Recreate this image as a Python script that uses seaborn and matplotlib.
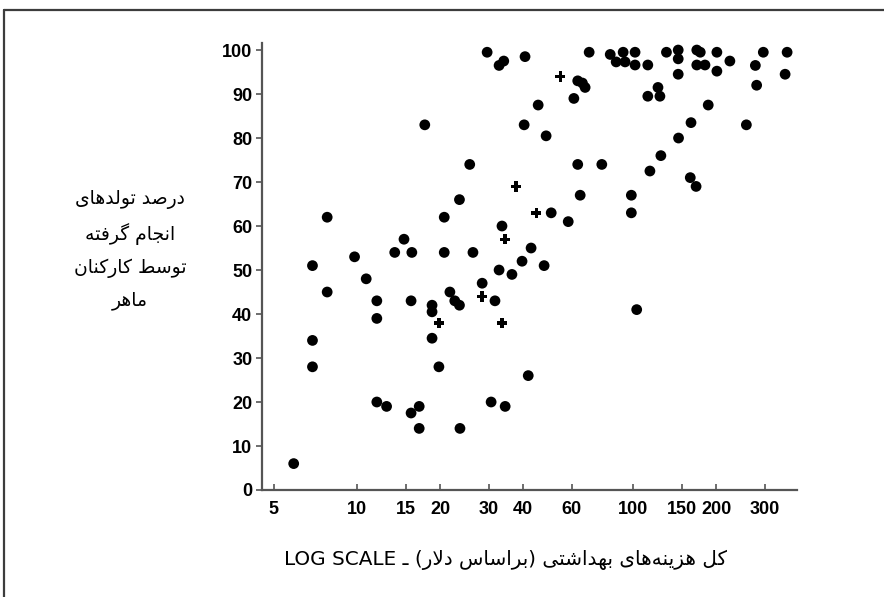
import matplotlib
matplotlib.use("Agg")
import matplotlib.pyplot as plt
import seaborn as sns
import pandas as pd
from matplotlib.lines import Line2D
from matplotlib.ticker import FixedLocator, FixedFormatter, NullLocator

# ---------------- data ----------------
health_spending = [5.9, 6.9, 6.9, 6.9, 7.8, 7.8, 9.8, 10.8, 11.8, 11.8, 11.8, 12.8, 13.7, 14.8,
                   15.8, 15.7, 15.7, 16.8, 16.8, 17.6, 18.7, 18.7, 18.7, 19.8, 20.7, 20.7, 21.7,
                   22.6, 23.5, 23.5, 23.6, 25.6, 26.3, 28.4, 29.6, 30.6, 31.6, 32.7, 32.7, 34.0,
                   33.5, 34.4, 36.4, 39.6, 40.3, 40.6, 41.7, 42.7, 45.3, 47.6, 48.4, 50.5, 58.2,
                   61.0, 63.0, 65.5, 67.0, 63.0, 64.3, 69.3, 77.0, 82.6, 86.8, 92.0, 93.5, 98.5,
                   98.5, 101.6, 101.6, 103.0, 113.0, 113.0, 123.0, 125.0, 115.0, 126.0, 132.0,
                   145.6, 145.6, 145.6, 146.0, 161.0, 169.0, 162.0, 170.0, 175.0, 170.0, 182.0,
                   187.0, 201.0, 201.0, 224.0, 257.0, 277.0, 280.0, 296.0, 355.0, 361.0]
skilled_births = [6, 51, 34, 28, 62, 45, 53, 48, 43, 39, 20, 19, 54, 57,
                  54, 43, 17.5, 19, 14, 83, 42, 40.5, 34.5, 28, 62, 54, 45,
                  43, 42, 66, 14, 74, 54, 47, 99.5, 20, 43, 50, 96.5, 97.5,
                  60, 19, 49, 52, 83, 98.5, 26, 55, 87.5, 51, 80.5, 63, 61,
                  89, 93, 92.5, 91.5, 74, 67, 99.5, 74, 99, 97.3, 99.5, 97.3, 67,
                  63, 99.5, 96.6, 41, 96.6, 89.5, 91.5, 89.5, 72.5, 76, 99.5,
                  100, 98, 94.5, 80, 71, 69, 83.5, 100, 99.5, 96.6, 96.6,
                  87.5, 99.5, 95.2, 97.5, 83, 96.5, 92, 99.5, 94.5, 99.5]
cross_spending = [19.8, 28.4, 33.5, 34.4, 37.7, 44.6, 54.5]
cross_births = [38, 44, 38, 57, 69, 63, 94]

x_ticks = [5, 10, 15, 20, 30, 40, 60, 100, 150, 200, 300]
x_tick_labels = ["5", "10", "15", "20", "30", "40", "60", "100", "150", "200", "300"]
y_ticks = [0, 10, 20, 30, 40, 50, 60, 70, 80, 90, 100]
y_tick_labels = [str(v) for v in y_ticks]

ylabel_lines = ["درصد تولدهای", "انجام گرفته", "توسط کارکنان", "ماهر"]
xlabel_fa = "کل هزینه\u200cهای بهداشتی (براساس دلار)"
xlabel_en = "LOG SCALE"

# ------------- simple Persian shaping (presentation forms) -------------
FORMS = {
    'ا': ('\uFE8D', '\uFE8E', None, None),
    'ب': ('\uFE8F', '\uFE90', '\uFE91', '\uFE92'),
    'ت': ('\uFE95', '\uFE96', '\uFE97', '\uFE98'),
    'ج': ('\uFE9D', '\uFE9E', '\uFE9F', '\uFEA0'),
    'د': ('\uFEA9', '\uFEAA', None, None),
    'ر': ('\uFEAD', '\uFEAE', None, None),
    'ز': ('\uFEAF', '\uFEB0', None, None),
    'س': ('\uFEB1', '\uFEB2', '\uFEB3', '\uFEB4'),
    'ش': ('\uFEB5', '\uFEB6', '\uFEB7', '\uFEB8'),
    'ص': ('\uFEB9', '\uFEBA', '\uFEBB', '\uFEBC'),
    'ط': ('\uFEC1', '\uFEC2', '\uFEC3', '\uFEC4'),
    'ف': ('\uFED1', '\uFED2', '\uFED3', '\uFED4'),
    'ل': ('\uFEDD', '\uFEDE', '\uFEDF', '\uFEE0'),
    'م': ('\uFEE1', '\uFEE2', '\uFEE3', '\uFEE4'),
    'ن': ('\uFEE5', '\uFEE6', '\uFEE7', '\uFEE8'),
    'ه': ('\uFEE9', '\uFEEA', '\uFEEB', '\uFEEC'),
    'و': ('\uFEED', '\uFEEE', None, None),
    'ی': ('\uFBFC', '\uFBFD', '\uFBFE', '\uFBFF'),
    'ک': ('\uFB8E', '\uFB8F', '\uFB90', '\uFB91'),
    'گ': ('\uFB92', '\uFB93', '\uFB94', '\uFB95'),
}
MIRROR = {'(': ')', ')': '('}


def shape(s):
    out = []
    n = len(s)
    i = 0
    while i < n:
        c = s[i]
        if c not in FORMS:
            if c != '\u200c':
                out.append(MIRROR.get(c, c))
            i += 1
            continue
        prev = s[i - 1] if i > 0 else None
        cp = prev is not None and prev in FORMS and FORMS[prev][2] is not None
        if c == 'ل' and i + 1 < n and s[i + 1] == 'ا':
            out.append('\uFEFC' if cp else '\uFEFB')
            i += 2
            continue
        nxt = s[i + 1] if i + 1 < n else None
        cn = FORMS[c][2] is not None and nxt is not None and nxt in FORMS
        iso, fin, ini, med = FORMS[c]
        if cp and cn:
            out.append(med)
        elif cp:
            out.append(fin)
        elif cn:
            out.append(ini)
        else:
            out.append(iso)
        i += 1
    return ''.join(out)[::-1]


# ---------------- plot ----------------
sns.set_theme(style="white")
plt.rcParams['font.family'] = ['DejaVu Sans']

df = pd.DataFrame({"spend": health_spending, "births": skilled_births})
dfc = pd.DataFrame({"spend": cross_spending, "births": cross_births})

fig = plt.figure(figsize=(8.84, 5.97), dpi=100)
fig.patch.set_facecolor("white")
ax = fig.add_axes([262 / 884, 1 - 490 / 597, (797 - 262) / 884, (490 - 43) / 597])

sns.scatterplot(data=df, x="spend", y="births", ax=ax, color="black",
                s=60, edgecolor="none", linewidth=0, legend=False)
sns.scatterplot(data=dfc, x="spend", y="births", ax=ax, color="black", marker="P",
                s=55, edgecolor="none", linewidth=0, legend=False)

ax.set_xscale("log")
ax.set_xlim(4.53, 392)
ax.set_ylim(0, 101.6)
ax.xaxis.set_major_locator(FixedLocator(x_ticks))
ax.xaxis.set_major_formatter(FixedFormatter(x_tick_labels))
ax.xaxis.set_minor_locator(NullLocator())
ax.yaxis.set_major_locator(FixedLocator(y_ticks))
ax.yaxis.set_major_formatter(FixedFormatter(y_tick_labels))

ax.set_xlabel("")
ax.set_ylabel("")
for side in ["top", "right"]:
    ax.spines[side].set_visible(False)
for side in ["left", "bottom"]:
    ax.spines[side].set_color("#555555")
    ax.spines[side].set_linewidth(1.6)

tick_font = ['Liberation Sans Narrow', 'Liberation Sans', 'DejaVu Sans']
ax.tick_params(axis="y", direction="out", length=4, width=1.2, color="#555555", pad=3,
               left=True)
ax.tick_params(axis="x", direction="in", length=4, width=1.2, color="#555555", pad=8,
               bottom=True)
for lab in ax.get_xticklabels() + ax.get_yticklabels():
    lab.set_family(tick_font)
    lab.set_fontweight("bold")
    lab.set_fontsize(13)
    lab.set_color("black")

# axis titles (Persian, shaped for right-to-left display)
fig.text(130 / 884, 1 - 250 / 597, "\n".join(shape(l) for l in ylabel_lines),
         ha="center", va="center", fontsize=13.5, linespacing=1.85, color="black")
fig.text(506 / 884, 1 - 560 / 597, xlabel_en + " ـ " + shape(xlabel_fa),
         ha="center", va="center", fontsize=14.4, color="black")

# partial frame (top and left edges)
fig.add_artist(Line2D([4 / 884, 1.0], [1 - 10 / 597, 1 - 10 / 597],
                      transform=fig.transFigure, color="#3c3c3c", lw=1.6))
fig.add_artist(Line2D([4 / 884, 4 / 884], [0.0, 1 - 10 / 597],
                      transform=fig.transFigure, color="#3c3c3c", lw=1.6))

fig.savefig("out.png", dpi=100, facecolor="white")
